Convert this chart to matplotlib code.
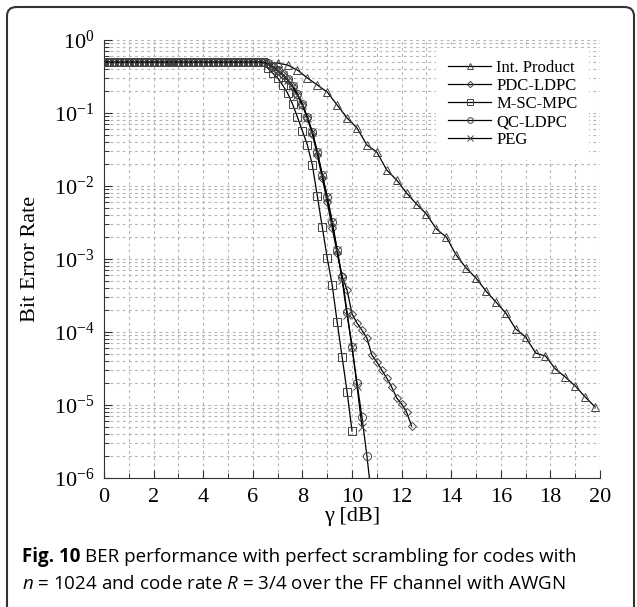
import numpy as np
import matplotlib
matplotlib.use("Agg")
import matplotlib.pyplot as plt
from matplotlib.ticker import LogLocator, MultipleLocator, NullFormatter
from matplotlib.patches import FancyBboxPatch

plt.rcParams["font.family"] = "Liberation Serif"
plt.rcParams["mathtext.fontset"] = "custom"
plt.rcParams["mathtext.rm"] = "Open Sans"
plt.rcParams["mathtext.it"] = "Open Sans:italic"
plt.rcParams["mathtext.bf"] = "Open Sans:bold"

# flat part (BER = 0.5) shared by all codes, 0 .. 6.4 dB
flat_x = np.arange(0, 6.41, 0.2)
flat_ber = [0.5] * len(flat_x)

# Int. Product
ip_x = np.arange(6.6, 19.81, 0.4)
ip_ber = [0.484, 0.484, 0.455, 0.388, 0.302, 0.242, 0.194, 0.129, 0.0855, 0.0623,
          0.0365, 0.0292, 0.01656, 0.01208, 0.00802, 0.00567, 0.00413, 0.00258, 0.0020, 0.001135,
          7.53e-4, 5.49e-4, 3.65e-4, 2.58e-4, 1.82e-4, 1.10e-4, 8.55e-5, 5.16e-5, 4.69e-5, 3.11e-5,
          2.42e-5, 1.82e-5, 1.29e-5, 9.4e-6]

# PDC-LDPC
pdc_x = np.arange(6.6, 12.41, 0.2)
pdc_ber = [0.469, 0.427, 0.376, 0.332, 0.283, 0.227, 0.176, 0.129, 0.0855, 0.0515,
           0.0266, 0.0129, 0.00604, 0.00266, 0.00121, 5.85e-4, 3.76e-4, 1.77e-4, 1.33e-4, 1.06e-4,
           8.27e-5, 4.84e-5, 3.88e-5, 3.01e-5, 2.34e-5, 1.76e-5, 1.25e-5, 1.03e-5, 8.0e-6, 5.15e-6]

# M-SC-MPC
msc_x = np.arange(6.6, 10.01, 0.2)
msc_ber = [0.413, 0.353, 0.302, 0.242, 0.188, 0.133, 0.088, 0.0567, 0.0365, 0.0194,
           0.0073, 0.00274, 0.00103, 4.4e-4, 1.37e-4, 4.55e-5, 1.51e-5, 4.4e-6]

# QC-LDPC
qc_x = np.arange(6.6, 10.81, 0.2)
qc_ber = [0.484, 0.44, 0.388, 0.342, 0.292, 0.234, 0.182, 0.133, 0.088, 0.055,
          0.0292, 0.0142, 0.00707, 0.00321, 0.00133, 5.66e-4, 1.88e-4, 6.23e-5, 2.0e-5, 6.85e-6,
          2.0e-6, 5.0e-7]

# PEG
peg_x = np.arange(6.6, 10.41, 0.2)
peg_ber = [0.469, 0.427, 0.388, 0.332, 0.283, 0.234, 0.176, 0.129, 0.0855, 0.055,
           0.0292, 0.0142, 0.00707, 0.00321, 0.00133, 5.15e-4, 1.71e-4, 6.23e-5, 1.82e-5, 5.0e-6]

series = [
    ("Int. Product", ip_x, ip_ber, "^"),
    ("PDC-LDPC", pdc_x, pdc_ber, "D"),
    ("M-SC-MPC", msc_x, msc_ber, "s"),
    ("QC-LDPC", qc_x, qc_ber, "o"),
    ("PEG", peg_x, peg_ber, "x"),
]

fig = plt.figure(figsize=(6.37, 6.07), dpi=100)
ax = fig.add_axes([0.1633, 0.2125, 0.7787, 0.7215])

for name, x, ber, mk in series:
    xs = np.concatenate([flat_x, x])
    ys = np.concatenate([flat_ber, ber])
    ms = 4.5 if mk == "D" else 5.8
    ax.plot(xs, ys, color="black", lw=0.9, marker=mk, ms=ms, mfc="none",
            mec="#444444", mew=0.7, label=name, zorder=3)

ax.set_yscale("log")
ax.set_xlim(0, 20)
ax.set_ylim(1e-6, 1)
ax.xaxis.set_major_locator(MultipleLocator(2))
ax.xaxis.set_minor_locator(MultipleLocator(1))
ax.yaxis.set_major_locator(LogLocator(base=10, numticks=10))
ax.yaxis.set_minor_locator(LogLocator(base=10, subs=np.arange(2, 10), numticks=20))
ax.yaxis.set_minor_formatter(NullFormatter())

ax.grid(True, which="both", color="#b4b4b4", lw=0.8, ls=(0, (2.5, 3)), zorder=0)
for s in ["top", "right"]:
    ax.spines[s].set_visible(False)
ax.spines["left"].set_color("#333333")
ax.spines["bottom"].set_color("#333333")
ax.tick_params(which="major", direction="in", length=6, width=0.8, labelsize=16, pad=7, color="#333333")
ax.tick_params(which="minor", direction="in", length=3.5, width=0.7, color="#333333")

ax.set_xlabel("γ [dB]", fontsize=16, labelpad=0)
ax.set_ylabel("Bit Error Rate", fontsize=16, labelpad=10)

leg = ax.legend(loc="upper right", bbox_to_anchor=(0.995, 1.0), fontsize=12,
                frameon=True, facecolor="white", edgecolor="none", framealpha=1,
                fancybox=False, handlelength=2.6, handletextpad=0.3, labelspacing=0.12,
                markerscale=0.7, borderpad=0.7)
leg.set_zorder(5)

# caption: bold "Fig. 10" then the rest of the line
fig.canvas.draw()
renderer = fig.canvas.get_renderer()
cap_bold = fig.text(22 / 637, 1 - 557 / 607, "Fig. 10", fontsize=13.5, family="Open Sans",
                    weight="bold", va="center", ha="left")
bb = cap_bold.get_window_extent(renderer=renderer)
fig.text((bb.x1 + 5) / 637, 1 - 557 / 607,
         "BER performance with perfect scrambling for codes with",
         fontsize=13.5, family="Open Sans", va="center", ha="left")
fig.text(22 / 637, 1 - 584 / 607, r"$n$ = 1024 and code rate $R$ = 3/4 over the FF channel with AWGN",
         fontsize=13.5, family="Open Sans", va="center", ha="left")

# rounded frame around the figure
box = FancyBboxPatch((7 / 637, -0.05), 627 / 637, 1 - 7 / 607 + 0.05,
                     boxstyle="round,pad=0,rounding_size=0.015", transform=fig.transFigure,
                     fill=False, ec="#333333", lw=1.5)
fig.patches.append(box)

fig.savefig("out.png", dpi=100)
